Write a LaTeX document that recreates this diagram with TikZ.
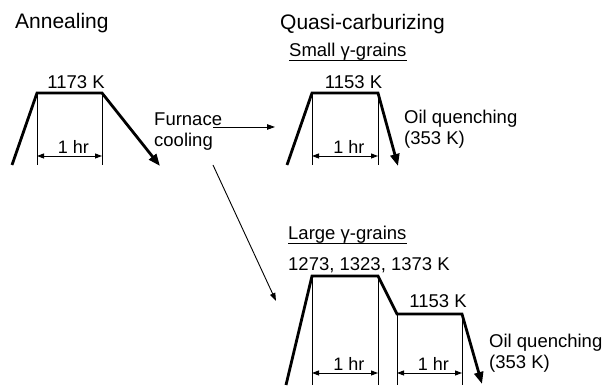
\documentclass[tikz,border=0pt]{standalone}
\usepackage{fontspec}
\setmainfont{Liberation Sans}
\usepackage{tikz}
\usetikzlibrary{arrows.meta, calc}

\begin{document}
\begin{tikzpicture}[
    x=1pt, y=-1pt,
    head/.style={inner sep=0pt, anchor=base west, font=\fontsize{21}{24}\selectfont},
    lbl/.style={inner sep=0pt, anchor=base, font=\fontsize{18.5}{21}\selectfont},
    lblw/.style={inner sep=0pt, anchor=base west, font=\fontsize{18.5}{21}\selectfont},
    note/.style={inner sep=0pt, anchor=north west, align=left, font=\fontsize{18.5}{21}\selectfont},
    hr/.style={inner sep=0pt, anchor=base, xshift=4pt, yshift=2.5pt, font=\fontsize{18}{21}\selectfont},
    curve/.style={line width=2.8pt, line join=miter},
    quench/.style={line width=2.8pt, -{Triangle[length=12pt,width=9pt]}},
    guide/.style={line width=0.9pt},
    dim/.style={line width=0.9pt, {Triangle[length=7pt,width=5pt]}-{Triangle[length=7pt,width=5pt]}},
    arrow/.style={line width=0.9pt, -{Triangle[length=8pt,width=5.5pt]}}
]
\useasboundingbox (0,0) rectangle (606,387);

% Headings
\node[head] (ann) at (15,29) {Annealing};
\node[head] (qc) at (280,29.5) {Quasi-carburizing};

% Annealing cycle
\coordinate (a0) at (12,165);
\coordinate (a1) at (37,93);
\coordinate (a2) at (102,93);
\coordinate (a3) at (160,166);
\draw[quench] (a0) -- (a1) -- (a2) -- (a3);
\draw[guide] (a1) -- (a1 |- a0);
\draw[guide] (a2) -- (a2 |- a0);
\draw[dim] (37,156) -- (102,156) node[hr, midway] {1 hr};
\node[lbl] (tann) at (76,89) {1173 K};

\node[note] (furn) at (154,113) {Furnace\\cooling};

% Small grains
\node[lblw] (sg) at (289,57) {Small γ-grains};
\draw[guide] ([yshift=-3pt]sg.base west) -- ([yshift=-3pt]sg.base east);
\coordinate (s0) at (287,165);
\coordinate (s1) at (312,93);
\coordinate (s2) at (378,93);
\coordinate (s3) at (398,166);
\draw[quench] (s0) -- (s1) -- (s2) -- (s3);
\draw[guide] (s1) -- (s1 |- s0);
\draw[guide] (s2) -- (s2 |- s0);
\draw[dim] (312,156) -- (378,156) node[hr, midway] {1 hr};
\node[lbl] (tsm) at (353.5,89) {1153 K};
\node[note] (oq1) at (404,109.5) {Oil quenching\\(353 K)};

% Large grains
\node[lblw] (lg) at (288,240) {Large γ-grains};
\draw[guide] ([yshift=-3pt]lg.base west) -- ([yshift=-3pt]lg.base east);
\node[lblw] (tlg) at (288,271) {1273, 1323, 1373 K};
\coordinate (l0) at (286,385);
\coordinate (l1) at (312,276);
\coordinate (l2) at (378,276);
\coordinate (l3) at (397,314);
\coordinate (l4) at (462,314);
\coordinate (l5) at (482,384);
\draw[quench] (l0) -- (l1) -- (l2) -- (l3) -- (l4) -- (l5);
\foreach \p in {l1,l2,l3,l4}
    \draw[guide] (\p) -- (\p |- l0);
\draw[dim] (312,373) -- (378,373) node[hr, midway] {1 hr};
\draw[dim] (397,373) -- (462,373) node[hr, midway] {1 hr};
\node[lbl] (tlg2) at (438,308) {1153 K};
\node[note] (oq2) at (489,333.5) {Oil quenching\\(353 K)};

% Furnace cooling paths
\coordinate (f1) at (213,127);
\coordinate (f2) at (213,165);
\coordinate (tosmall) at (275,127);
\coordinate (tolarge) at (276,301);
\draw[arrow] (f1) -- (tosmall);
\draw[arrow] (f2) -- (tolarge);

\end{tikzpicture}
\end{document}
